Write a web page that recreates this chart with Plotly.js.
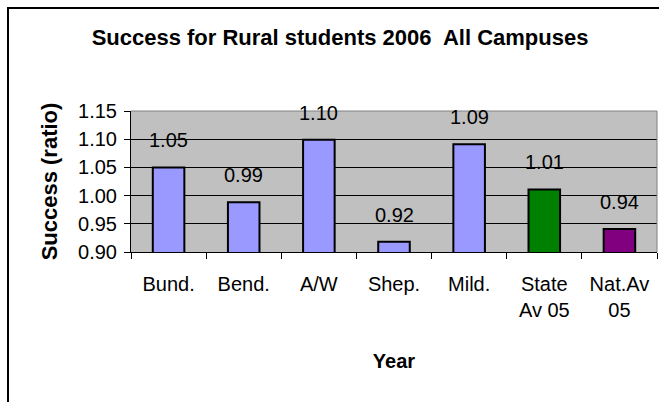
<!DOCTYPE html>
<html>
<head>
<meta charset="utf-8">
<script src="https://cdn.plot.ly/plotly-3.0.1.min.js"></script>
<style>html,body{margin:0;padding:0;background:#fff;overflow:hidden;}#chart{width:659px;height:402px;}</style>
</head>
<body>
<div id="chart"></div>
<script>
const categories = ["Bund.", "Bend.", "A/W", "Shep.", "Mild.", "State<br>Av 05", "Nat.Av<br>05"];
const successValues = [1.050, 0.988, 1.099, 0.918, 1.091, 1.011, 0.941];
const barColors = ["#9999FF", "#9999FF", "#9999FF", "#9999FF", "#9999FF", "#008000", "#800080"];
const yTickVals = [0.90, 0.95, 1.00, 1.05, 1.10, 1.15];

const FONT = "Liberation Sans, Arial, sans-serif";

const trace = {
  type: "bar",
  x: categories,
  y: successValues,
  marker: { color: barColors, line: { color: "#000000", width: 2 } },
  hoverinfo: "x+y"
};

const annotations = categories.map((c, i) => ({
  x: c, y: successValues[i], xref: "x", yref: "y",
  text: successValues[i].toFixed(2),
  showarrow: false, yanchor: "middle", yshift: 27,
  font: { family: FONT, size: 20, color: "#000000" }
}));

const layout = {
  width: 659, height: 402,
  margin: { l: 131, r: 2, t: 111, b: 150 },
  paper_bgcolor: "#FFFFFF",
  plot_bgcolor: "#C0C0C0",
  showlegend: false,
  bargap: 0.58,
  title: {
    text: "<b>Success for Rural students 2006  All Campuses</b>",
    font: { family: FONT, size: 22, color: "#000000" },
    x: 0.516, xref: "container", xanchor: "center",
    y: 1 - 37/402, yref: "container", yanchor: "middle"
  },
  xaxis: {
    type: "category",
    tickson: "boundaries",
    ticks: "outside", ticklen: 6, tickwidth: 1, tickcolor: "#000000",
    ticklabelstandoff: 14,
    showgrid: false,
    showline: true, linecolor: "#000000", linewidth: 1,
    tickfont: { family: FONT, size: 20, color: "#000000" },
    title: { text: "<b>Year</b>", font: { family: FONT, size: 20, color: "#000000" }, standoff: 33 },
    automargin: false,
    fixedrange: true
  },
  yaxis: {
    range: [0.90, 1.15],
    tickvals: yTickVals,
    ticktext: yTickVals.map(v => v.toFixed(2)),
    ticks: "outside", ticklen: 6, tickwidth: 1, tickcolor: "#000000",
    ticklabelstandoff: 3,
    showgrid: true, gridcolor: "#000000", gridwidth: 1,
    showline: true, linecolor: "#000000", linewidth: 1,
    zeroline: false,
    tickfont: { family: FONT, size: 20, color: "#000000" },
    title: { text: "<b>Success (ratio)</b>", font: { family: FONT, size: 22, color: "#000000" }, standoff: 14 },
    automargin: false,
    fixedrange: true
  },
  annotations: annotations,
  shapes: [
    { type: "line", xref: "paper", yref: "paper", x0: 0, x1: 1, y0: 1, y1: 1, line: { color: "#808080", width: 1 }, layer: "above" },
    { type: "line", xref: "paper", yref: "paper", x0: 1, x1: 1, y0: 0, y1: 1, line: { color: "#808080", width: 1 }, layer: "above" },
    { type: "rect", xref: "paper", yref: "paper", x0: (8-131)/526, x1: 2, y0: -2, y1: 1 + (111-8)/141, line: { color: "#000000", width: 2 }, fillcolor: "rgba(0,0,0,0)", layer: "above" }
  ]
};

Plotly.newPlot("chart", [trace], layout, { displayModeBar: false, staticPlot: true });
</script>
</body>
</html>
